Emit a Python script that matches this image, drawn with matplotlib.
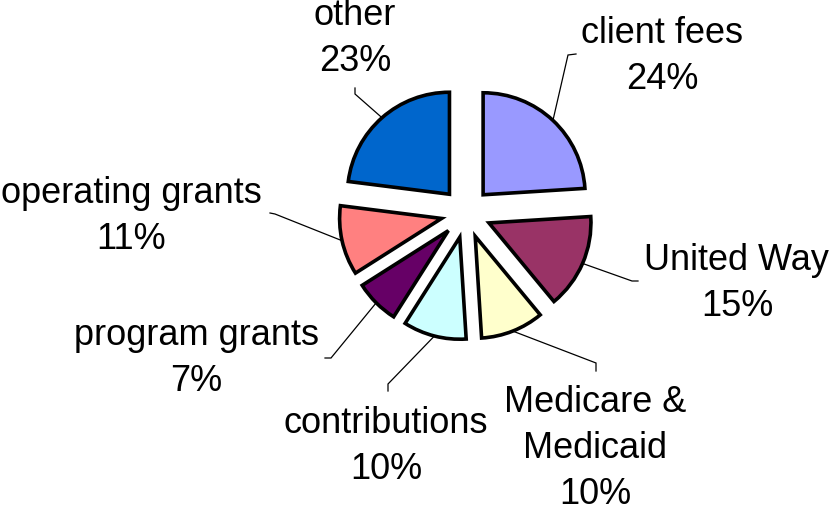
import numpy as np
import matplotlib
matplotlib.use("Agg")
import matplotlib.pyplot as plt

plt.rcParams['font.family'] = ['Liberation Sans', 'DejaVu Sans']

# Data
labels = ['client fees', 'United Way', 'Medicare &\nMedicaid', 'contributions',
          'program grants', 'operating grants', 'other']
shares = [24, 15, 10, 10, 7, 11, 23]
colors = ['#9999FF', '#993366', '#FFFFCC', '#CCFFFF', '#660066', '#FF8080', '#0066CC']

W, H = 835, 506
fig = plt.figure(figsize=(W / 100, H / 100), dpi=100)
ax = fig.add_axes([0, 0, 1, 1])


def py(y):
    # pixel row (from top) -> data y
    return H - y


# explode is in data units here (axes are in pixels)
wedges, _ = ax.pie(shares, colors=colors, startangle=90, counterclock=False,
                   explode=[25] * len(shares), radius=102, center=(466, py(214)),
                   wedgeprops=dict(edgecolor='black', linewidth=2.6, joinstyle='miter'))
ax.set_xlim(0, W)
ax.set_ylim(0, H)
ax.axis('off')

# label layout: text centre x, first baseline (px from top), leader elbow, leader tick end
layout = [
    (662, 43, (568, 56), (576, 55)),
    (737, 270, (632, 282), (638, 282)),
    (595, 412, (596, 364), (596, 372)),
    (386, 433, (388, 385), (388, 392)),
    (196, 345, (331, 359), (325, 359)),
    (131, 203, (275, 215), (270, 214)),
    (355, 25, (355, 95), (355, 89)),
]

line_gap = 46
for w, lab, pct, (tx, base, elbow, tick) in zip(wedges, labels, shares, layout):
    mid = np.deg2rad((w.theta1 + w.theta2) / 2)
    cx, cy = w.center
    ax0 = cx + w.r * np.cos(mid)
    ay0 = cy + w.r * np.sin(mid)
    ax.plot([ax0, elbow[0], tick[0]], [ay0, py(elbow[1]), py(tick[1])],
            color='black', lw=0.9, solid_joinstyle='miter')
    lines = lab.split('\n') + [f'{pct}%']
    for i, s in enumerate(lines):
        ax.text(tx, py(base + i * line_gap), s, fontsize=26, ha='center',
                va='baseline', color='black')

fig.savefig('out.png', dpi=100)
